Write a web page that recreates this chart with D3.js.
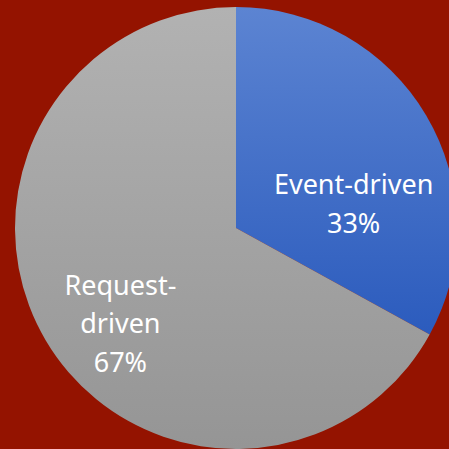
<!DOCTYPE html>
<html><head><meta charset="utf-8">
<script src="https://cdn.jsdelivr.net/npm/d3@7"></script>
<style>html,body{margin:0;padding:0;background:#941300;}svg{display:block;}</style>
</head><body>
<script>
const categories = ["Event-driven", "Request-driven"];
const values = [33, 67];
const labelLines = [["Event-driven", "33%"], ["Request-", "driven", "67%"]];

const W = 449, H = 449, cx = 236, cy = 228, R = 221;
const svg = d3.select("body").append("svg").attr("width", W).attr("height", H);
svg.append("rect").attr("width", W).attr("height", H).attr("fill", "#941300");

const defs = svg.append("defs");
// gradient coordinates are in the pie group's local space (centre at 0,0)
const grads = [
  {id: "gBlue", top: "#5c84d2", bot: "#2b5bbd", y1: -R, y2: 110},
  {id: "gGray", top: "#b2b2b2", bot: "#959595", y1: -R, y2: R}
];
grads.forEach(g => {
  const lg = defs.append("linearGradient").attr("id", g.id)
    .attr("gradientUnits", "userSpaceOnUse").attr("x1", 0).attr("x2", 0).attr("y1", g.y1).attr("y2", g.y2);
  lg.append("stop").attr("offset", "0%").attr("stop-color", g.top);
  lg.append("stop").attr("offset", "100%").attr("stop-color", g.bot);
});

const pie = d3.pie().sort(null).value(d => d);
const arcs = pie(values);
const arc = d3.arc().innerRadius(0).outerRadius(R);
const labelArc = d3.arc().innerRadius(R * 0.6).outerRadius(R * 0.6);
const g = svg.append("g").attr("transform", `translate(${cx},${cy})`);
g.selectAll("path").data(arcs).join("path")
  .attr("d", arc).attr("fill", (d, i) => `url(#${grads[i].id})`);

const labelOffsets = [[3.5, 43.5], [-1.5, 29]];
const lineHeights = [39, 38.5];
arcs.forEach((d, i) => {
  const [x, y] = labelArc.centroid(d);
  const lines = labelLines[i];
  const lh = lineHeights[i];
  const t = g.append("text").attr("text-anchor", "middle")
    .attr("font-family", "'Noto Sans', sans-serif").attr("font-size", 27).attr("fill", "#fff");
  lines.forEach((ln, j) => {
    t.append("tspan").attr("x", x + labelOffsets[i][0])
      .attr("y", y + labelOffsets[i][1] + (j - (lines.length - 1) / 2) * lh + 9).text(ln);
  });
});
</script>
</body></html>
